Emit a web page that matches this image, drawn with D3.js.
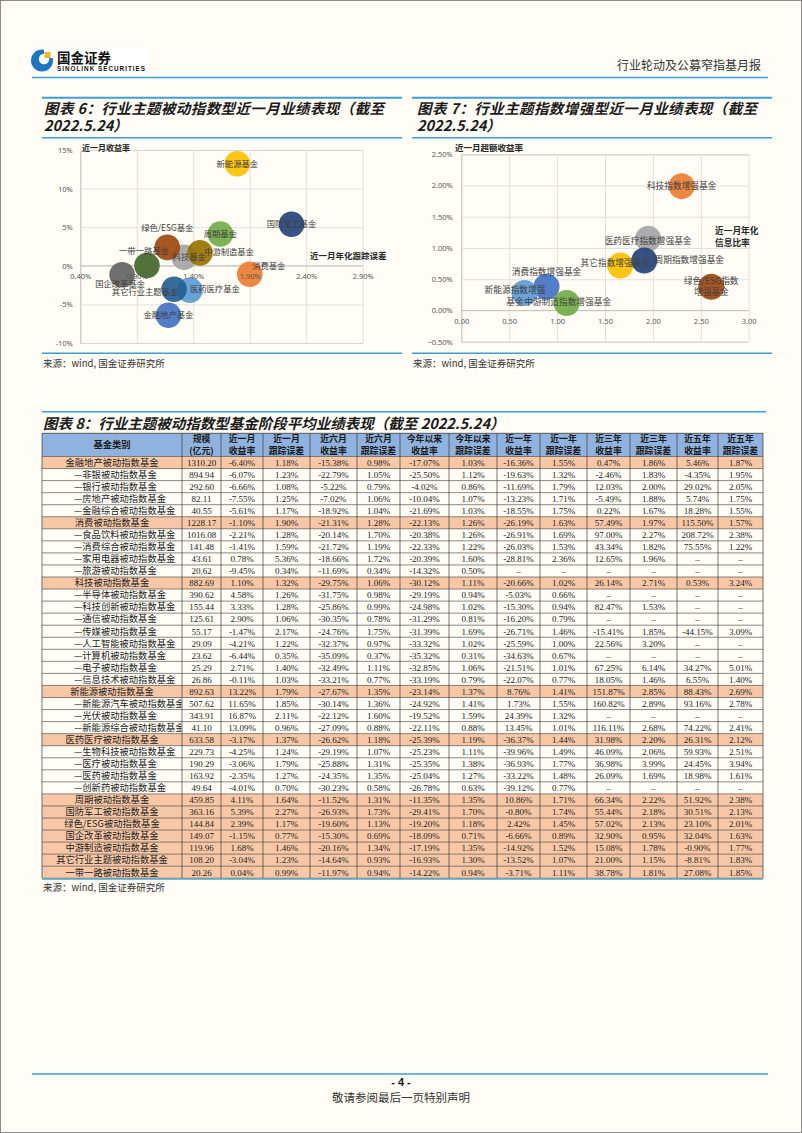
<!DOCTYPE html>
<html><head><meta charset="utf-8">
<script src="https://cdn.jsdelivr.net/npm/d3@7"></script>
<style>
html,body{margin:0;padding:0;background:#fffdf5;}
svg{display:block;}
</style></head><body>
<svg id="page" width="802" height="1133"></svg>
<script>
// ---------------- DATA ----------------
const chart6Labels = ["金融地产基金","消费基金","科技基金","新能源基金","医药医疗基金","周期基金","国防军工基金","绿色/ESG基金","国企改革基金","中游制造基金","其它行业主题基金","一带一路基金"];
const chart6TrackErr = [1.18,1.90,1.32,1.79,1.37,1.64,2.27,1.17,0.77,1.46,1.23,0.99];
const chart6Return = [-6.40,-1.10,1.10,13.22,-3.17,4.11,5.39,2.39,-1.15,1.68,-3.04,0.04];
const chart6XTicks = [0.4,0.9,1.4,1.9,2.4,2.9];
const chart6YTicks = [-10,-5,0,5,10,15];

const chart7Labels = ["消费指数增强基金","科技指数增强基金","医药医疗指数增强基金","其它指数增强基金","新能源指数增强基金","中游制造指数增强基金","周期指数增强基金","绿色/ESG指数增强基金"];
const chart7InfoRatio = [0.89,2.30,1.95,1.66,0.66,1.10,1.91,2.61];
const chart7Excess = [0.38,1.99,1.15,0.72,0.28,0.12,0.80,0.38];
const chart7XTicks = [0,0.5,1,1.5,2,2.5,3];
const chart7YTicks = [-0.5,0,0.5,1,1.5,2,2.5];

const tableHeaders = ["基金类别","规模|(亿元)","近一月|收益率","近一月|跟踪误差","近六月|收益率","近六月|跟踪误差","今年以来|收益率","今年以来|跟踪误差","近一年|收益率","近一年|跟踪误差","近三年|收益率","近三年|跟踪误差","近五年|收益率","近五年|跟踪误差"];
const fundNames = ["金融地产被动指数基金","—非银被动指数基金","—银行被动指数基金","—房地产被动指数基金","—金融综合被动指数基金",
"消费被动指数基金","—食品饮料被动指数基金","—消费综合被动指数基金","—家用电器被动指数基金","—旅游被动指数基金",
"科技被动指数基金","—半导体被动指数基金","—科技创新被动指数基金","—通信被动指数基金","—传媒被动指数基金","—人工智能被动指数基金","—计算机被动指数基金","—电子被动指数基金","—信息技术被动指数基金",
"新能源被动指数基金","—新能源汽车被动指数基金","—光伏被动指数基金","—新能源综合被动指数基金",
"医药医疗被动指数基金","—生物科技被动指数基金","—医疗被动指数基金","—医药被动指数基金","—创新药被动指数基金",
"周期被动指数基金","国防军工被动指数基金","绿色/ESG被动指数基金","国企改革被动指数基金","中游制造被动指数基金","其它行业主题被动指数基金","一带一路被动指数基金"];
const fundSize = [1310.20,894.94,292.60,82.11,40.55,1228.17,1016.08,141.48,43.61,20.62,882.69,390.62,155.44,125.61,55.17,29.09,23.62,25.29,26.86,892.63,507.62,343.91,41.10,633.58,229.73,190.29,163.92,49.64,459.85,363.16,144.84,149.07,119.96,108.20,20.26];
const ret1m = [-6.40,-6.07,-6.66,-7.55,-5.61,-1.10,-2.21,-1.41,0.78,-9.45,1.10,4.58,3.33,2.90,-1.47,-4.21,-6.44,2.71,-0.11,13.22,11.65,16.87,13.09,-3.17,-4.25,-3.06,-2.35,-4.01,4.11,5.39,2.39,-1.15,1.68,-3.04,0.04];
const te1m = [1.18,1.23,1.08,1.25,1.17,1.90,1.28,1.59,5.36,0.34,1.32,1.26,1.28,1.06,2.17,1.22,0.35,1.40,1.03,1.79,1.85,2.11,0.96,1.37,1.24,1.79,1.27,0.70,1.64,2.27,1.17,0.77,1.46,1.23,0.99];
const ret6m = [-15.38,-22.79,-5.22,-7.02,-18.92,-21.31,-20.14,-21.72,-18.66,-11.69,-29.75,-31.75,-25.86,-30.35,-24.76,-32.37,-35.09,-32.49,-33.21,-27.67,-30.14,-22.12,-27.09,-26.62,-29.19,-25.88,-24.35,-30.23,-11.52,-26.93,-19.60,-15.30,-20.16,-14.64,-11.97];
const te6m = [0.98,1.05,0.79,1.06,1.04,1.28,1.70,1.19,1.72,0.34,1.06,0.98,0.99,0.78,1.75,0.97,0.37,1.11,0.77,1.35,1.36,1.60,0.88,1.18,1.07,1.31,1.35,0.58,1.31,1.73,1.13,0.69,1.34,0.93,0.94];
const retYtd = [-17.07,-25.50,-4.02,-10.04,-21.69,-22.13,-20.38,-22.33,-20.39,-14.32,-30.12,-29.19,-24.98,-31.29,-31.39,-33.32,-35.32,-32.85,-33.19,-23.14,-24.92,-19.52,-22.11,-25.39,-25.23,-25.35,-25.04,-26.78,-11.35,-29.41,-19.20,-18.09,-17.19,-16.93,-14.22];
const teYtd = [1.03,1.12,0.86,1.07,1.03,1.26,1.26,1.22,1.60,0.50,1.11,0.94,1.02,0.81,1.69,1.02,0.31,1.06,0.79,1.37,1.41,1.59,0.88,1.19,1.11,1.38,1.27,0.63,1.35,1.70,1.18,0.71,1.35,1.30,0.94];
const ret1y = [-16.36,-19.63,-11.69,-13.23,-18.55,-26.19,-26.91,-26.03,-28.81,null,-20.66,-5.03,-15.30,-16.20,-26.71,-25.59,-34.63,-21.51,-22.07,8.76,1.73,24.39,13.45,-36.37,-39.96,-36.93,-33.22,-39.12,10.86,-0.80,2.42,-6.66,-14.92,-13.52,-3.71];
const te1y = [1.55,1.32,1.79,1.71,1.75,1.63,1.69,1.53,2.36,null,1.02,0.66,0.94,0.79,1.46,1.00,0.67,1.01,0.77,1.41,1.55,1.32,1.01,1.44,1.49,1.77,1.48,0.77,1.71,1.74,1.45,0.89,1.52,1.07,1.11];
const ret3y = [0.47,-2.46,12.03,-5.49,0.22,57.49,97.00,43.34,12.65,null,26.14,null,82.47,null,-15.41,22.56,null,67.25,18.05,151.87,160.82,null,116.11,31.98,46.09,36.98,26.09,null,66.34,55.44,57.02,32.90,15.08,21.00,38.78];
const te3y = [1.86,1.83,2.00,1.88,1.67,1.97,2.27,1.82,1.96,null,2.71,null,1.53,null,1.85,3.20,null,6.14,1.46,2.85,2.89,null,2.68,2.20,2.06,3.99,1.69,null,2.22,2.18,2.13,0.95,1.78,1.15,1.81];
const ret5y = [5.46,-4.35,29.02,5.74,18.28,115.50,208.72,75.55,null,null,0.53,null,null,null,-44.15,null,null,34.27,6.55,88.43,93.16,null,74.22,26.31,59.93,24.45,18.98,null,51.92,30.51,23.10,32.04,-0.90,-8.81,27.08];
const te5y = [1.87,1.95,2.05,1.75,1.55,1.57,2.38,1.22,null,null,3.24,null,null,null,3.09,null,null,5.01,1.40,2.69,2.78,null,2.41,2.12,2.51,3.94,1.61,null,2.38,2.13,2.01,1.63,1.77,1.83,1.85];

// ---------------- LAYOUT / STYLE ----------------
const BLUE = "#3d9fd8";
const CJK = "'Noto Sans CJK SC','Noto Sans',sans-serif";
const NUM = "'Liberation Serif','DejaVu Serif',serif";
const AXF = "'Noto Sans','Liberation Sans',sans-serif";
const officeColors = ["#4472C4","#ED7D31","#A5A5A5","#FFC000","#5B9BD5","#70AD47","#264478","#9E480E","#636363","#997300","#255E91","#43682B"];
const chart7Colors = ["#4472C4","#ED7D31","#A5A5A5","#FFC000","#5B9BD5","#70AD47","#264478","#9E480E"];
// label offsets [dx, dy, charsOnFirstLine]
const chart6LabelPos = [[0,0],[19,-8],[5,0],[0,0],[25,-1],[0,0],[0,0],[0,-19],[-2,9],[29,-1],[-29,3],[-3,-14]];
const chart7LabelPos = [[0,-15],[0,0],[0,2],[-5,-2],[-9.5,3,7],[1,-1],[45,0],[0,0,8]];

const svg = d3.select("#page");
svg.append("rect").attr("width",802).attr("height",1133).attr("fill","#fffdf5");
svg.append("rect").attr("x",0.5).attr("y",0.5).attr("width",801).attr("height",1132)
  .attr("fill","none").attr("stroke","#8a8a8a").attr("stroke-width",1);

function hline(x1,x2,y,w,c){svg.append("line").attr("x1",x1).attr("x2",x2).attr("y1",y).attr("y2",y).attr("stroke",c||BLUE).attr("stroke-width",w);}
function txt(parent,x,y,s,size,opt){
  opt=opt||{};
  return parent.append("text").attr("x",x).attr("y",y).text(s)
    .attr("font-family",opt.family||CJK).attr("font-size",size)
    .attr("font-weight",opt.weight||400).attr("font-style",opt.style||"normal")
    .attr("fill",opt.fill||"#222").attr("text-anchor",opt.anchor||"start")
    .attr("letter-spacing",opt.ls||0);
}

// ---------- page header ----------
const logo = svg.append("g");
logo.append("rect").attr("x",30).attr("y",47).attr("width",117).attr("height",27).attr("fill","#ffffff");
logo.append("circle").attr("cx",42).attr("cy",60.5).attr("r",11).attr("fill","#1b75c0");
logo.append("circle").attr("cx",44).attr("cy",59).attr("r",5.2).attr("fill","#ffffff");
logo.append("rect").attr("x",44).attr("y",49).attr("width",10).attr("height",9).attr("fill","#ffffff");
logo.append("rect").attr("x",44.5).attr("y",52).attr("width",6).attr("height",6).attr("fill","#f2b22c");
txt(logo,57,62.5,"国金证券",13.5,{weight:700,fill:"#111"});
txt(logo,57,71.3,"SINOLINK SECURITIES",6.3,{weight:700,fill:"#111",family:"'Liberation Sans',Arial,sans-serif"}).attr("textLength",88);
txt(svg,761,70,"行业轮动及公募窄指基月报",12,{anchor:"end",fill:"#333"});
hline(32,768,77.5,1.5);

// ---------- chart titles ----------
[[42,402,44,"图表 6：行业主题被动指数型近一月业绩表现（截至"],[412,772,417,"图表 7：行业主题指数增强型近一月业绩表现（截至"]].forEach(t=>{
  hline(t[0],t[1],97.7,2);
  txt(svg,t[2],113.6,t[3],14.5,{weight:700,style:"italic",fill:"#1a1a1a",ls:0.4});
  txt(svg,t[2],131.3,"2022.5.24）",14.5,{weight:700,style:"italic",fill:"#1a1a1a"});
  hline(t[0],t[1],137.7,1.5);
  hline(t[0],t[1],353.3,1.5);
  txt(svg,t[0]+1,366.5,"来源：wind, 国金证券研究所",9.5,{fill:"#333"});
});

// ---------- bubble chart helper ----------
function bubbleChart(o){
  const g = svg.append("g");
  const x = d3.scaleLinear().domain(o.xDomain).range(o.xRange);
  const y = d3.scaleLinear().domain(o.yDomain).range(o.yRange);
  const [x0,x1]=o.xRange, [y1,y0]=o.yRange; // y0 top, y1 bottom
  g.append("g").attr("transform",`translate(0,${y1})`)
    .call(d3.axisBottom(x).tickValues(o.xTicks).tickSize(-(y1-y0)).tickFormat(""))
    .call(a=>{a.select(".domain").remove();a.selectAll("line").attr("stroke","#d9d9d9").attr("stroke-width",0.8);});
  g.append("g").attr("transform",`translate(${x0},0)`)
    .call(d3.axisLeft(y).tickValues(o.yTicks).tickSize(-(x1-x0)).tickPadding(o.yPad).tickFormat(o.yFmt))
    .call(a=>{a.select(".domain").attr("stroke","#bfbfbf").attr("stroke-width",0.9);
      a.selectAll("line").attr("stroke","#d9d9d9").attr("stroke-width",0.8);
      a.selectAll("text").attr("font-family",AXF).attr("font-size",7.5).attr("fill","#595959");});
  g.append("line").attr("x1",x0).attr("x2",x1).attr("y1",y(0)).attr("y2",y(0)).attr("stroke","#bfbfbf").attr("stroke-width",0.9);
  g.append("g").selectAll("circle").data(o.xs).join("circle")
    .attr("cx",(d)=>x(d)).attr("cy",(d,i)=>y(o.ys[i])).attr("r",o.r)
    .attr("fill",(d,i)=>o.colors[i]).attr("fill-opacity",0.92);
  g.append("g").attr("transform",`translate(0,${y(0)})`)
    .call(d3.axisBottom(x).tickValues(o.xTicks).tickSize(0).tickPadding(o.xPad).tickFormat(o.xFmt))
    .call(a=>{a.select(".domain").remove();
      a.selectAll("text").attr("font-family",AXF).attr("font-size",7.5).attr("fill","#595959");});
  const lg = g.append("g");
  o.labels.forEach((s,i)=>{
    const p=o.labelPos[i]; const cx=x(o.xs[i])+p[0], cy=y(o.ys[i])+p[1];
    if(p[2]){
      const lines=[s.slice(0,p[2]),s.slice(p[2])];
      lines.forEach((l,k)=>txt(lg,cx,cy+(k-0.5)*o.lineGap+3,l,o.fs,{anchor:"middle",fill:"#404040"}));
    } else {
      txt(lg,cx,cy+3,s,o.fs,{anchor:"middle",fill:"#404040"});
    }
  });
  o.titles.forEach(t=>txt(g,t[0],t[1],t[2],t[3],{weight:700,fill:"#262626"}));
}

bubbleChart({
  xDomain:[0.4,2.9], xRange:[80.3,362.7], yDomain:[-10,15], yRange:[343,150],
  xTicks:chart6XTicks, yTicks:chart6YTicks,
  xFmt:d=>d3.format(".2f")(d)+"%", yFmt:d=>d+"%", xPad:7.5, yPad:7.5,
  xs:chart6TrackErr, ys:chart6Return, labels:chart6Labels, colors:officeColors,
  labelPos:chart6LabelPos, r:12.8, fs:8.3, lineGap:11,
  titles:[[82,150.7,"近一月收益率",8],[310,258.7,"近一月年化跟踪误差",8.5]]
});
bubbleChart({
  xDomain:[0,3], xRange:[461.3,748.7], yDomain:[-0.5,2.5], yRange:[341.7,154.3],
  xTicks:chart7XTicks, yTicks:chart7YTicks,
  xFmt:d=>d3.format(".2f")(d), yFmt:d=>d3.format(".2f")(d)+"%", xPad:8.5, yPad:8.5,
  xs:chart7InfoRatio, ys:chart7Excess, labels:chart7Labels, colors:chart7Colors,
  labelPos:chart7LabelPos, r:13, fs:8.7, lineGap:11.5,
  titles:[[455,150.7,"近一月超额收益率",8.5],[715,233.8,"近一月年化",8.7],[715,245.8,"信息比率",8.7]]
});

// ---------- table ----------
hline(42,766,411.7,1.5);
txt(svg,43,428.5,"图表 8：行业主题被动指数型基金阶段平均业绩表现（截至 2022.5.24）",14.5,{weight:700,style:"italic",fill:"#1a1a1a"});

const colX = [42,182,221,263,310,357,400,449,497,540,587,630,677,718,763];
const headTop = 433.3, headBot = 456.5, rowH = 12.05;
const cols = [fundSize,ret1m,te1m,ret6m,te6m,retYtd,teYtd,ret1y,te1y,ret3y,te3y,ret5y,te5y];
const tg = svg.append("g");
tg.append("rect").attr("x",colX[0]).attr("y",headTop).attr("width",colX[14]-colX[0]).attr("height",headBot-headTop).attr("fill","#8fb3de");
const rows = fundNames.map((n,i)=>({name:n, i, head: !n.startsWith("—"), vals: cols.map(c=>c[i])}));
tg.selectAll("rect.row").data(rows).join("rect").attr("class","row")
  .attr("x",colX[0]).attr("y",d=>headBot+d.i*rowH).attr("width",colX[14]-colX[0]).attr("height",rowH)
  .attr("fill",d=>d.head?"#f8c8a6":"none");
tableHeaders.forEach((h,j)=>{
  const cx=(colX[j]+colX[j+1])/2;
  const parts=h.split("|");
  if(parts.length===1) txt(tg,cx,448.4,parts[0],9.3,{anchor:"middle",weight:700,fill:"#1a1a1a"});
  else { txt(tg,cx,442.4,parts[0],8.9,{anchor:"middle",weight:700,fill:"#1a1a1a"});
         txt(tg,cx,454.0,parts[1],8.9,{anchor:"middle",weight:700,fill:"#1a1a1a"}); }
});
svg.append("clipPath").attr("id","c0").append("rect").attr("x",colX[0]).attr("y",headBot).attr("width",colX[1]-colX[0]-0.5).attr("height",rowH*rows.length);
const nameG = tg.append("g").attr("clip-path","url(#c0)");
rows.forEach(r=>{
  const cy=headBot+r.i*rowH+rowH/2+3.3;
  if(r.head) txt(nameG,(colX[0]+colX[1])/2,cy,r.name,9.3,{anchor:"middle",fill:"#222"});
  else txt(nameG,74,cy,r.name,9.3,{fill:"#222"});
  r.vals.forEach((v,j)=>{
    const cx=(colX[j+1]+colX[j+2])/2;
    let s = v==null ? "–" : (j===0 ? d3.format(".2f")(v) : d3.format(".2f")(v)+"%");
    s = s.replace("−","-");
    txt(tg,cx,cy,s,9,{anchor:"middle",family:NUM,fill:"#222"});
  });
});
const tableBot = headBot+rowH*rows.length;
colX.forEach(xv=>tg.append("line").attr("x1",xv).attr("x2",xv).attr("y1",headTop).attr("y2",tableBot).attr("stroke","#3a3a3a").attr("stroke-width",0.7));
d3.range(rows.length+1).forEach(k=>{
  const yv=headBot+k*rowH;
  tg.append("line").attr("x1",colX[0]).attr("x2",colX[14]).attr("y1",yv).attr("y2",yv).attr("stroke","#3a3a3a").attr("stroke-width",0.6);
});
tg.append("line").attr("x1",colX[0]).attr("x2",colX[14]).attr("y1",headTop).attr("y2",headTop).attr("stroke","#3a3a3a").attr("stroke-width",0.8);
hline(colX[0],colX[14],tableBot+0.8,1.6,"#4aa6cf");
txt(svg,43,891,"来源：wind, 国金证券研究所",9.5,{fill:"#333"});

// ---------- footer ----------
hline(32,768,1074,1.5);
txt(svg,401,1086,"- 4 -",11,{anchor:"middle",weight:700,fill:"#111",family:"'Liberation Sans',Arial,sans-serif"});
txt(svg,401,1102,"敬请参阅最后一页特别声明",11.5,{anchor:"middle",fill:"#333"});
</script>
</body></html>
